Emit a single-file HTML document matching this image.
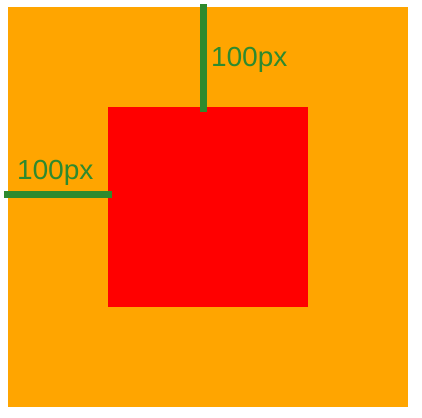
<!DOCTYPE html>
<html><head><meta charset="utf-8"><style>
body{margin:0;width:422px;height:418px;background:#fff;position:relative;overflow:hidden;font-family:"Liberation Sans",sans-serif}
div{position:absolute}
.t{color:#2e8a2e;font-size:28px;line-height:1}
</style></head><body>
<div style="left:8px;top:7px;width:400px;height:400px;background:#ffa500"></div>
<div style="left:108px;top:107px;width:200px;height:200px;background:#ff0000"></div>
<div style="left:200px;top:4px;width:7px;height:108px;background:#2e8a2e"></div>
<div style="left:4px;top:191px;width:108px;height:7px;background:#2e8a2e"></div>
<div class="t" style="left:211px;top:43px">100px</div>
<div class="t" style="left:17px;top:156px">100px</div>
</body></html>
